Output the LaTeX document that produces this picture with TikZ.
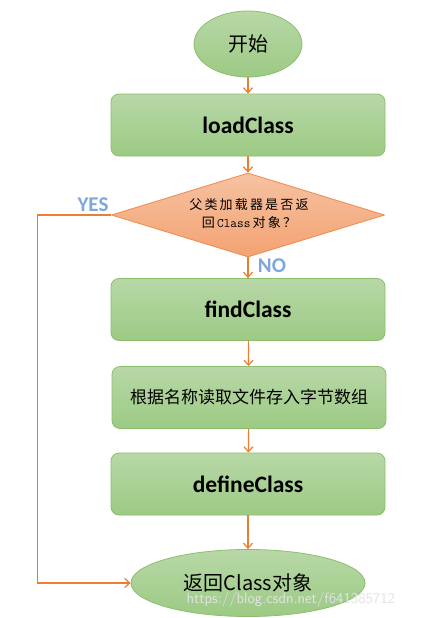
\documentclass[tikz,border=0pt]{standalone}
\usepackage{fontspec}
\setmainfont{Carlito}
\newfontfamily\cjk{Noto Sans CJK SC}
\usetikzlibrary{shapes.geometric,arrows.meta}
\definecolor{gtop}{HTML}{B8D8A7}
\definecolor{gbot}{HTML}{9CCA84}
\definecolor{gline}{HTML}{8CBE6C}
\definecolor{otop}{HTML}{F6C2A2}
\definecolor{obot}{HTML}{F3A272}
\definecolor{oline}{HTML}{EF8A4B}
\definecolor{arr}{HTML}{ED7D31}
\definecolor{ynblue}{HTML}{7FA7DD}
\tikzset{
  greenbox/.style={draw=gline, line width=0.8pt, rounded corners=8pt, top color=gtop, bottom color=gbot,
    minimum width=274pt, minimum height=62pt, inner sep=0pt},
  greenell/.style={ellipse, draw=gline, line width=0.8pt, top color=gtop, bottom color=gbot, inner sep=0pt},
  decision/.style={diamond, draw=oline, line width=0.8pt, top color=otop, bottom color=obot,
    minimum width=273pt, minimum height=84pt, aspect=3.25, inner sep=0pt},
  flow/.style={draw=arr, line width=1.2pt, -{Straight Barb[length=5pt,width=9pt]}},
  boxtext/.style={font=\fontsize{23.5}{25}\selectfont\bfseries},
  yn/.style={text=ynblue, font=\fontsize{21}{22}\selectfont\bfseries},
}
\begin{document}
\begin{tikzpicture}[x=1pt,y=-1pt]
\fill[white] (0,0) rectangle (423,618);
\useasboundingbox (0,0) rectangle (423,618);
\node[greenell, minimum width=108pt, minimum height=66pt] (start) at (248,44) {\cjk\fontsize{20}{22}\selectfont 开始};
\node[greenbox, boxtext] (load) at (248,125) {loadClass};
\node[decision] (dec) at (248,215) {};
\node[align=center, font=\cjk\fontsize{13}{18}\selectfont] (dectext) at (249,214) {父\,类\,加\,载\,器\,是\,否\,返\\回\,{\ttfamily Class}\,对\,象\,？};
\node[greenbox, boxtext] (find) at (248,309.5) {findClass};
\node[greenbox] (read) at (249,397.5) {\cjk\fontsize{17}{20}\selectfont 根据名称读取文件存入字节数组};
\node[greenbox, boxtext] (define) at (248,484) {defineClass};
\node[greenell, minimum width=234pt, minimum height=67pt] (endE) at (248,583) {\fontsize{20}{22}\selectfont\cjk 返回Class对象};
\node[yn] (yes) at (93,205) {YES};
\node[yn] (no) at (272,266) {NO};
\node[text=gray!22, font=\sffamily\fontsize{15}{16}\selectfont, anchor=west] (wm) at (183,600) {https://blog.csdn.net/f641385712};
\draw[flow] (start) -- (load);
\draw[flow] (load) -- (dec);
\draw[flow] (dec) -- (find);
\draw[flow] (find) -- (read);
\draw[flow] (read) -- (define);
\draw[flow] (define) -- (endE);
\draw[flow] (dec.west) -- ++(-74,0) coordinate (yc) |- (endE.west);
\end{tikzpicture}
\end{document}
